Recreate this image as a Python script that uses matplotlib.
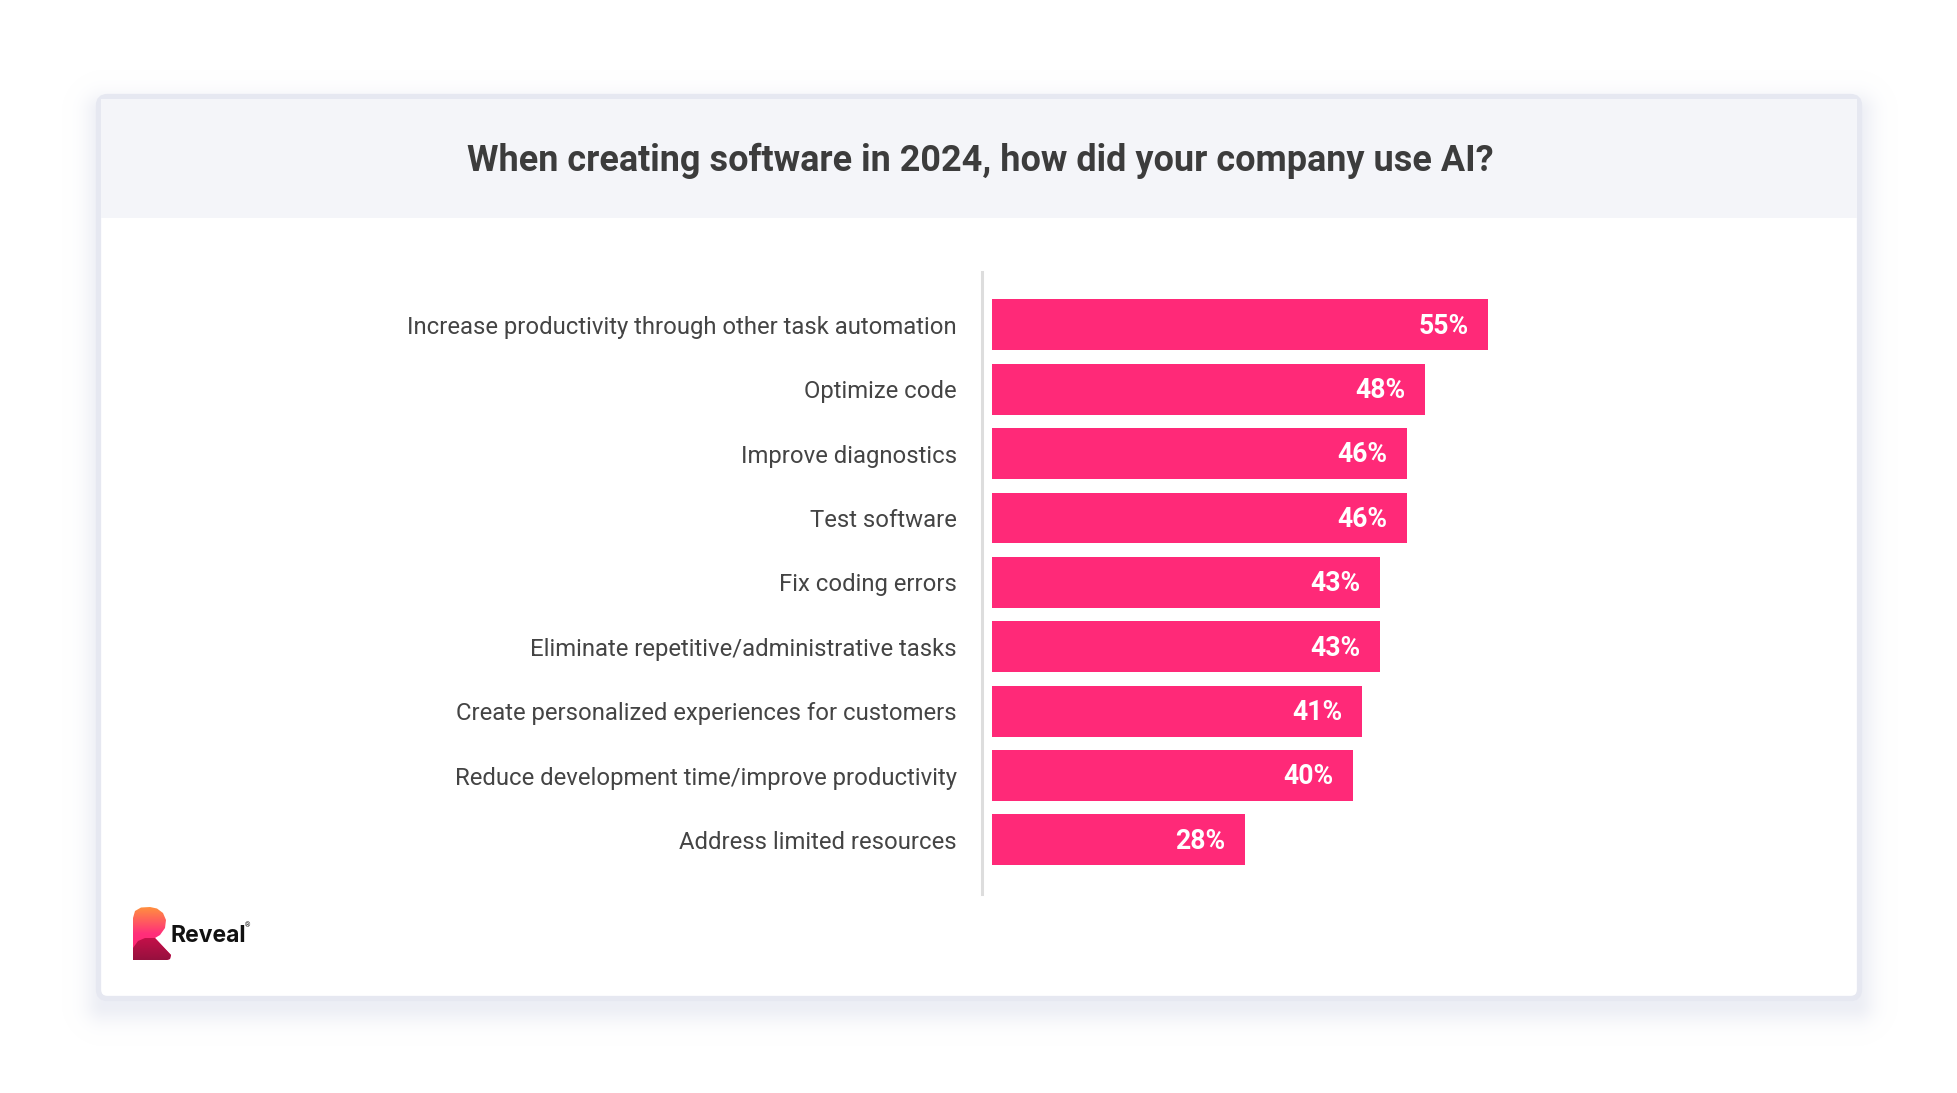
import matplotlib
matplotlib.use("Agg")
import matplotlib.pyplot as plt
import numpy as np
from matplotlib.patches import FancyBboxPatch, Rectangle, Polygon

plt.rcParams['font.family'] = ['Roboto', 'DejaVu Sans']

# Daten
title = "When creating software in 2024, how did your company use AI?"
categories = [
    "Increase productivity through other task automation",
    "Optimize code",
    "Improve diagnostics",
    "Test software",
    "Fix coding errors",
    "Eliminate repetitive/administrative tasks",
    "Create personalized experiences for customers",
    "Reduce development time/improve productivity",
    "Address limited resources",
]
values = [55, 48, 46, 46, 43, 43, 41, 40, 28]

W, H = 1958, 1093
barColor = "#ff2978"
textColor = "#444444"

fig = plt.figure(figsize=(W / 100, H / 100), dpi=100)
fig.patch.set_facecolor("white")

# Hintergrund-Achse in Pixelkoordinaten
bg = fig.add_axes([0, 0, 1, 1])
bg.set_xlim(0, W)
bg.set_ylim(H, 0)
bg.axis("off")

# weicher Schatten als Bild (Abstand zum leicht nach unten versetzten Rechteck)
yy, xx = np.mgrid[0:H, 0:W] + 0.5
dx = np.maximum(np.maximum(104 - xx, xx - 1856), 0)
dy = np.maximum(np.maximum(112 - yy, yy - 1004), 0)
dist = np.hypot(dx, dy)
shadow = np.zeros((H, W, 4))
shadow[..., 0] = 222 / 255
shadow[..., 1] = 225 / 255
shadow[..., 2] = 237 / 255
shadow[..., 3] = 0.55 * np.exp(-(dist / 19.0) ** 2)
bg.imshow(shadow, extent=(0, W, H, 0), zorder=1, interpolation="bilinear")
bg.set_xlim(0, W)
bg.set_ylim(H, 0)

# Karte
card = FancyBboxPatch((98.5, 96.5), 1761, 902, boxstyle="round,pad=0,rounding_size=9",
                      facecolor="white", edgecolor="#e6e8f1", linewidth=3.8, zorder=2)
bg.add_patch(card)
# Kopfbereich
bg.add_patch(Rectangle((101, 99), 1756, 119, facecolor="#f4f5f9", edgecolor="none", zorder=3))
bg.text(980, 161, title, ha="center", va="center", fontsize=25.9, fontweight="bold",
        color="#3c3c3c", zorder=4)

# Logo
grad = np.linspace(0, 1, 100).reshape(-1, 1) * np.ones((1, 100))
bowl = Polygon([(133, 960), (133, 918), (135, 911), (141, 907.5), (150, 907),
                (157, 908.5), (163, 913), (166, 920), (165, 928), (160, 935),
                (155, 938), (171, 955), (170, 959), (167, 960)],
               closed=True, facecolor="none", edgecolor="none", zorder=5)
bg.add_patch(bowl)
im = bg.imshow(grad, extent=(133, 171, 960, 907), cmap=matplotlib.colors.LinearSegmentedColormap.from_list(
    "logo", ["#ff8f3f", "#ff2f7a", "#ff1f6e"]), zorder=5, aspect="auto")
im.set_clip_path(bowl)
leg = Polygon([(133, 960), (133, 948), (138, 941), (145, 938), (155, 938), (171, 955),
               (170, 959), (167, 960)], closed=True, facecolor="none", edgecolor="none", zorder=6)
bg.add_patch(leg)
im2 = bg.imshow(grad, extent=(133, 171, 960, 936), cmap=matplotlib.colors.LinearSegmentedColormap.from_list(
    "logo2", ["#c8104a", "#96103e"]), zorder=6, aspect="auto")
im2.set_clip_path(leg)
bg.text(171, 936, "Reveal", ha="left", va="center", fontsize=16.5, fontweight="bold",
        family=["Inter", "DejaVu Sans"], color="#111111", zorder=6)
bg.text(245, 926, "®", ha="left", va="center", fontsize=5, color="#111111", zorder=6)
bg.set_xlim(0, W)
bg.set_ylim(H, 0)

# Balkendiagramm
x0, x1 = 982, 1700
y0, y1 = 272, 894
ax = fig.add_axes([x0 / W, 1 - y1 / H, (x1 - x0) / W, (y1 - y0) / H])
ax.patch.set_alpha(0)
pos = np.arange(len(categories))
ax.barh(pos, values, height=0.79, color=barColor, zorder=3)
ax.set_xlim(-10 / 9.02, (x1 - 992) / 9.02)
ax.set_ylim(8.84, -0.82)
ax.set_yticks(pos)
ax.set_yticklabels(categories, fontsize=17.2, color=textColor)
ax.tick_params(axis="y", length=0, pad=18)
ax.set_xticks([])
for s in ["top", "right", "bottom"]:
    ax.spines[s].set_visible(False)
ax.spines["left"].set_color("#dddddd")
ax.spines["left"].set_linewidth(2.2)

for p, v in zip(pos, values):
    ax.annotate("%d%%" % v, xy=(v, p), xytext=(-14, -1), textcoords="offset points",
                ha="right", va="center", fontsize=19.2, fontweight="bold", color="white", zorder=4)

fig.savefig("out.png", dpi=100, facecolor="white")
